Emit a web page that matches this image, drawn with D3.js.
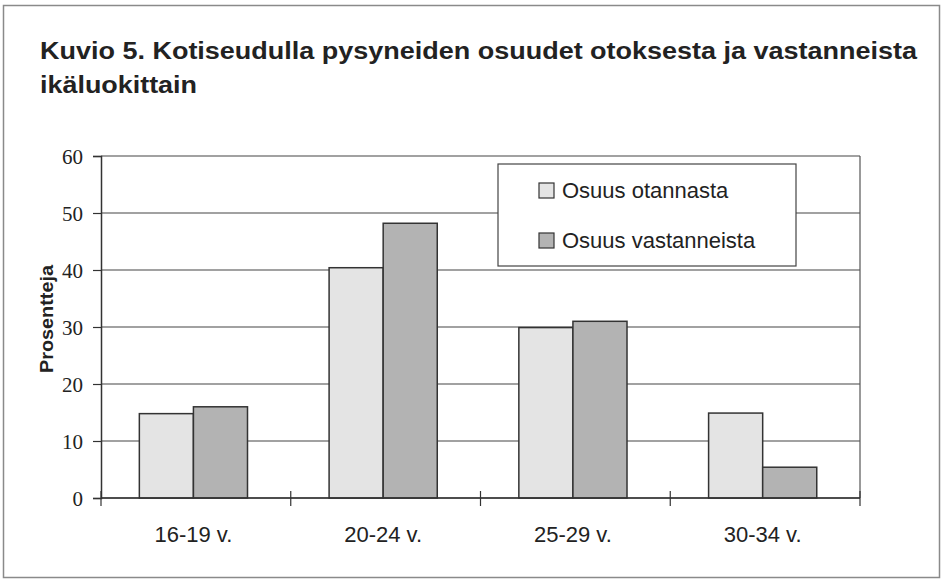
<!DOCTYPE html>
<html>
<head>
<meta charset="utf-8">
<script src="https://cdn.jsdelivr.net/npm/d3@7"></script>
<style>
  body { margin: 0; background: #fff; }
  svg { display: block; }
</style>
</head>
<body>
<div id="chart"></div>
<script>
// data
const categories = ["16-19 v.", "20-24 v.", "25-29 v.", "30-34 v."]
const seriesNames = ["Osuus otannasta", "Osuus vastanneista"]
const otannasta = [14.8, 40.4, 29.9, 14.9]
const vastanneista = [16.0, 48.2, 31.0, 5.4]
const yTicks = [0, 10, 20, 30, 40, 50, 60]
const colors = ["#e4e4e4", "#b3b3b3"]

const width = 945, height = 583
const margin = {top: 156, right: 85, bottom: 85, left: 101}
const innerW = width - margin.left - margin.right
const innerH = height - margin.top - margin.bottom

const svg = d3.select("#chart").append("svg")
  .attr("width", width)
  .attr("height", height)

// outer frame
svg.append("rect")
  .attr("x", 3.5).attr("y", 5.5)
  .attr("width", 936).attr("height", 572)
  .attr("fill", "#fff")
  .attr("stroke", "#8a8a8a")
  .attr("stroke-width", 1.5)

// title (the original face is wider than Liberation Sans, so stretch it)
const title = svg.append("g")
  .style("font-family", "'Liberation Sans', Arial, sans-serif")
  .style("font-weight", "bold")
  .style("font-size", "23px")
  .attr("fill", "#222")
title.append("text").attr("x", 40).attr("y", 59)
  .attr("textLength", 877).attr("lengthAdjust", "spacingAndGlyphs")
  .text("Kuvio 5. Kotiseudulla pysyneiden osuudet otoksesta ja vastanneista")
title.append("text").attr("x", 40).attr("y", 93)
  .attr("textLength", 157).attr("lengthAdjust", "spacingAndGlyphs")
  .text("ikäluokittain")

const g = svg.append("g")
  .attr("transform", "translate(" + margin.left + "," + margin.top + ")")

const x0 = d3.scaleBand().domain(categories).range([0, innerW]).paddingInner(0.43).paddingOuter(0.215).align(0.47)
const x1 = d3.scaleBand().domain(seriesNames).range([0, x0.bandwidth()])
const xb = d3.scaleBand().domain(categories).range([0, innerW])
const y = d3.scaleLinear().domain([0, 60]).range([innerH, 0])

// gridlines
g.append("g")
  .selectAll("line")
  .data(yTicks)
  .join("line")
  .attr("x1", 0).attr("x2", innerW)
  .attr("y1", d => y(d)).attr("y2", d => y(d))
  .attr("stroke", "#444")
  .attr("stroke-width", 1.2)

// right border
g.append("line")
  .attr("x1", innerW).attr("x2", innerW)
  .attr("y1", 0).attr("y2", innerH)
  .attr("stroke", "#555").attr("stroke-width", 1.2)

// bars
const rows = categories.map((c, i) => ({cat: c, vals: [otannasta[i], vastanneista[i]]}))
g.append("g")
  .selectAll("g")
  .data(rows)
  .join("g")
  .attr("transform", d => "translate(" + x0(d.cat) + ",0)")
  .selectAll("rect")
  .data(d => d.vals.map((v, j) => ({name: seriesNames[j], v: v, j: j})))
  .join("rect")
  .attr("x", d => x1(d.name))
  .attr("y", d => y(d.v))
  .attr("width", x1.bandwidth())
  .attr("height", d => innerH - y(d.v))
  .attr("fill", d => colors[d.j])
  .attr("stroke", "#333")
  .attr("stroke-width", 1.5)

// y axis
const yAxis = d3.axisLeft(y).tickValues(yTicks).tickSize(8).tickPadding(10)
g.append("g")
  .call(yAxis)
  .call(a => a.select(".domain").attr("stroke", "#333").attr("stroke-width", 1.5))
  .call(a => a.selectAll(".tick line").attr("stroke", "#333").attr("stroke-width", 1.2))
  .call(a => a.selectAll("text")
    .attr("dy", "0.36em")
    .style("font-family", "'Liberation Serif', 'Times New Roman', serif")
    .style("font-size", "21px")
    .attr("fill", "#222"))

// x axis: ticks at band boundaries, crossing the axis
const xg = g.append("g").attr("transform", "translate(0," + innerH + ")")
xg.append("line").attr("x1", 0).attr("x2", innerW)
  .attr("stroke", "#333").attr("stroke-width", 1.5)
xg.selectAll("line.tk")
  .data(categories.concat(["end"]))
  .join("line")
  .attr("class", "tk")
  .attr("x1", (d, i) => i < categories.length ? xb(d) : innerW)
  .attr("x2", (d, i) => i < categories.length ? xb(d) : innerW)
  .attr("y1", -7).attr("y2", 8)
  .attr("stroke", "#333").attr("stroke-width", 1.2)
xg.selectAll("text")
  .data(categories)
  .join("text")
  .attr("x", d => x0(d) + x0.bandwidth() / 2)
  .attr("y", 44)
  .attr("text-anchor", "middle")
  .style("font-family", "'Liberation Sans', Arial, sans-serif")
  .style("font-size", "22px")
  .attr("fill", "#222")
  .text(d => d)

// y label
svg.append("text")
  .attr("transform", "translate(53,319) rotate(-90)")
  .attr("text-anchor", "middle")
  .attr("textLength", 108).attr("lengthAdjust", "spacingAndGlyphs")
  .style("font-family", "'Liberation Sans', Arial, sans-serif")
  .style("font-weight", "bold")
  .style("font-size", "18px")
  .attr("fill", "#222")
  .text("Prosentteja")

// legend
const legend = svg.append("g").attr("transform", "translate(498,164)")
legend.append("rect")
  .attr("width", 298).attr("height", 102)
  .attr("fill", "#fff").attr("stroke", "#444").attr("stroke-width", 1.2)
const li = legend.selectAll("g.item")
  .data(seriesNames)
  .join("g")
  .attr("class", "item")
  .attr("transform", (d, i) => "translate(41," + (19 + i * 50) + ")")
li.append("rect")
  .attr("width", 15).attr("height", 15)
  .attr("fill", (d, i) => colors[i])
  .attr("stroke", "#333").attr("stroke-width", 1.2)
li.append("text")
  .attr("x", 23).attr("y", 15)
  .style("font-family", "'Liberation Sans', Arial, sans-serif")
  .style("font-size", "22px")
  .attr("fill", "#222")
  .text(d => d)
</script>
</body>
</html>
